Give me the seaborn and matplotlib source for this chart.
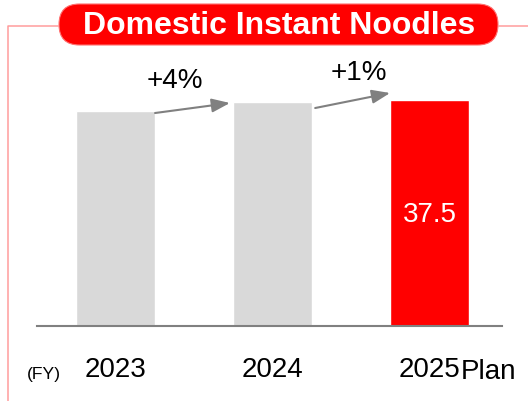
import matplotlib
matplotlib.use("Agg")
import matplotlib.pyplot as plt
from matplotlib.patches import FancyBboxPatch
from matplotlib.transforms import blended_transform_factory
import seaborn as sns
import pandas as pd

# Data
years = ["2023", "2024", "2025"]
sales = [35.6, 37.1, 37.5]
bar_colors = ["#D9D9D9", "#D9D9D9", "#FF0000"]
title = "Domestic Instant Noodles"
plan_label = "Plan"
fy_label = "(FY)"

sns.set_theme(style="white")
plt.rcParams["font.family"] = ["Liberation Sans", "DejaVu Sans"]

W, H, DPI = 528, 401, 100
fig = plt.figure(figsize=(W / DPI, H / DPI), dpi=DPI)
fig.patch.set_facecolor("white")

# Pixel-space overlay for the frame and title badge
ov = fig.add_axes([0, 0, 1, 1], zorder=0)
ov.set_xlim(0, W)
ov.set_ylim(H, 0)
ov.axis("off")
ov.patch.set_alpha(0)

frame_col = "#FF9C9C"
ov.plot([7.5, 7.5, 59], [H, 25.5, 25.5], color=frame_col, lw=1.1, solid_capstyle="butt")
ov.plot([498, W], [25.5, 25.5], color=frame_col, lw=1.1, solid_capstyle="butt")
badge = FancyBboxPatch((59, 4), 439, 41,
                       boxstyle="round,pad=0,rounding_size=20.5",
                       facecolor="#FF0000", edgecolor="#FF7070", lw=0.8)
ov.add_patch(badge)
ov.text(279, 25.5, title, color="white", fontsize=23, fontweight="bold",
        ha="center", va="center")

# Main bar axes
base_px, px_per_unit = 326, 226 / 37.5
ymax = 44
ax_top_px = base_px - ymax * px_per_unit
ax = fig.add_axes([37 / W, (H - base_px) / H, 465 / W, (base_px - ax_top_px) / H], zorder=1)
ax.patch.set_alpha(0)

df = pd.DataFrame({"year": years, "sales": sales})
sns.barplot(data=df, x="year", y="sales", hue="year", palette=bar_colors,
            legend=False, width=0.503, saturation=1, ax=ax)
ax.set_xlim(-0.5, 2.462)
ax.set_ylim(0, ymax)
for s in ["top", "left", "right"]:
    ax.spines[s].set_visible(False)
ax.spines["bottom"].set_color("#808080")
ax.spines["bottom"].set_linewidth(1.5)
ax.set_xticks([])
ax.set_yticks([])
ax.set_xlabel("")
ax.set_ylabel("")

# Year labels below the axis
tr = blended_transform_factory(ax.transData, ov.transData)
for i, y in enumerate(years):
    ax.text(i, 377, y, transform=tr, fontsize=20, ha="center", va="baseline",
            color="black")
ov.text(461, 379, plan_label, fontsize=20, ha="left", va="baseline", color="black")
ov.text(27, 379, fy_label, fontsize=12.6, ha="left", va="baseline", color="black")

# Value label inside the plan bar
ax.text(2, sales[2] / 2 - 0.25, f"{sales[2]:.1f}", color="white", fontsize=20,
        ha="center", va="center")

# Growth arrows between bars
arrow_offsets = [(-0.26, -0.1), (-0.93, 1.16)]
label_pos = [(0.376, 40.65), (1.548, 41.9)]
for i in range(len(sales) - 1):
    d0, d1 = arrow_offsets[i]
    x0, y0 = i + 0.252, sales[i] + d0
    x1, y1 = i + 1 - 0.271, sales[i + 1] + d1
    if i == 1:
        x0 += 0.02
        x1 += 0.02
    ax.annotate("", xy=(x1, y1), xytext=(x0, y0),
                arrowprops=dict(arrowstyle="-|>,head_length=1.0,head_width=0.38",
                                mutation_scale=11, color="#808080", lw=1.5,
                                shrinkA=0, shrinkB=0))
    pct = round((sales[i + 1] / sales[i] - 1) * 100)
    lx, ly = label_pos[i]
    ax.text(lx, ly, f"+{pct}%", fontsize=20, ha="center", va="center",
            color="black", clip_on=False)

fig.savefig("out.png", dpi=DPI)
